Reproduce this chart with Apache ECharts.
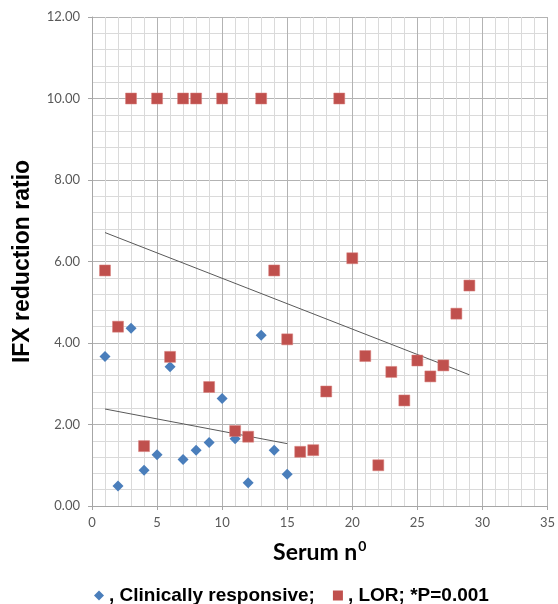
<!DOCTYPE html>
<html lang="en">
<head>
    <meta charset="UTF-8">
    <title>IFX reduction ratio</title>
    <script src="https://cdn.jsdelivr.net/npm/echarts@6/dist/echarts.min.js"></script>
    <style>
        html, body {margin: 0; padding: 0; background: #fff;}
        #chart {width: 558px; height: 604px;}
    </style>
</head>
<body>
<div id="chart"></div>
<script>
    // serum number vs IFX reduction ratio
    var respX = [1, 2, 3, 4, 5, 6, 7, 8, 9, 10, 11, 12, 13, 14, 15]
    var respY = [3.67, 0.49, 4.36, 0.88, 1.26, 3.42, 1.14, 1.37, 1.56, 2.64, 1.65, 0.57, 4.19, 1.37, 0.78]

    var lorX = [1, 2, 3, 4, 5, 6, 7, 8, 9, 10, 11, 12, 13, 14, 15, 16, 17, 18, 19, 20, 21, 22, 23, 24, 25, 26, 27, 28, 29]
    var lorY = [5.78, 4.40, 10, 1.47, 10, 3.66, 10, 10, 2.92, 10, 1.84, 1.70, 10, 5.78, 4.09, 1.33, 1.37, 2.81, 10, 6.08, 3.68, 1.00, 3.29, 2.59, 3.57, 3.18, 3.45, 4.72, 5.41]

    // trend lines (end points)
    var respTrendX = [1, 15]
    var respTrendY = [2.38, 1.53]
    var lorTrendX = [1, 29]
    var lorTrendY = [6.71, 3.22]

    var xTicks = [0, 5, 10, 15, 20, 25, 30, 35]
    var yTicks = ['0.00', '2.00', '4.00', '6.00', '8.00', '10.00', '12.00']

    function pairs(xs, ys) {
        var out = []
        for (var i = 0; i < xs.length; i++) {
            out.push([xs[i], ys[i]])
        }
        return out
    }

    var chart = echarts.init(document.getElementById('chart'), null, {renderer: 'canvas'})
    chart.setOption({
        animation: false,
        grid: {left: 92, right: 6, top: 17, bottom: 98},
        legend: {
            left: 89, top: 581,
            itemWidth: 10, itemHeight: 10, itemGap: 18,
            textStyle: {fontFamily: 'Liberation Sans', fontWeight: 'bold', fontSize: 19, color: '#000'},
            data: [
                {name: ', Clinically responsive;', icon: 'diamond', itemStyle: {color: '#4a7ebb'}},
                {name: ', LOR; *P=0.001', icon: 'rect', itemStyle: {color: '#c0504d', borderWidth: 0}}
            ]
        },
        xAxis: {
            type: 'value', min: 0, max: 35, interval: 5,
            name: '{a|Serum n}{s|0}', nameLocation: 'middle', nameGap: 33,
            nameTextStyle: {
                rich: {
                    a: {fontFamily: 'Lato', fontWeight: 'bold', fontSize: 23, color: '#000', lineHeight: 27},
                    s: {fontFamily: 'Lato', fontWeight: 'bold', fontSize: 14, color: '#000', verticalAlign: 'top', lineHeight: 27, padding: [0, 0, 12, 1]}
                }
            },
            axisLine: {show: true, lineStyle: {color: '#a6a6a6'}},
            axisTick: {show: true, length: 4, lineStyle: {color: '#a6a6a6'}},
            minorTick: {show: false, splitNumber: 5},
            axisLabel: {
                fontFamily: 'Lato', fontSize: 13, color: '#595959', margin: 10,
                formatter: function (v) { return xTicks.indexOf(v) >= 0 ? String(v) : '' }
            },
            splitLine: {show: true, lineStyle: {color: '#b3b3b3'}},
            minorSplitLine: {show: true, lineStyle: {color: '#dadada'}}
        },
        yAxis: {
            type: 'value', min: 0, max: 12, interval: 2,
            name: 'IFX reduction ratio', nameLocation: 'middle', nameGap: 58, nameRotate: 90,
            nameTextStyle: {fontFamily: 'Liberation Sans', fontWeight: 'bold', fontSize: 23, color: '#000'},
            axisLine: {show: true, lineStyle: {color: '#a6a6a6'}},
            axisTick: {show: true, length: 4, lineStyle: {color: '#a6a6a6'}},
            minorTick: {show: false, splitNumber: 5},
            axisLabel: {
                fontFamily: 'Lato', fontSize: 13, color: '#595959', margin: 12,
                formatter: function (v) { return yTicks[Math.round(v / 2)] }
            },
            splitLine: {show: true, lineStyle: {color: '#b3b3b3'}},
            minorSplitLine: {show: true, lineStyle: {color: '#dadada'}}
        },
        series: [
            {
                name: ', Clinically responsive;', type: 'scatter', symbol: 'diamond', symbolSize: 11,
                itemStyle: {color: '#4a7ebb', opacity: 1}, z: 3,
                data: pairs(respX, respY)
            },
            {
                name: ', LOR; *P=0.001', type: 'scatter', symbol: 'rect', symbolSize: 11,
                itemStyle: {color: '#c0504d', borderColor: '#d9827f', borderWidth: 0.5, opacity: 1}, z: 4,
                data: pairs(lorX, lorY)
            },
            {
                type: 'line', showSymbol: false, symbol: 'none', silent: true, z: 2,
                lineStyle: {color: '#595959', width: 1},
                data: pairs(respTrendX, respTrendY)
            },
            {
                type: 'line', showSymbol: false, symbol: 'none', silent: true, z: 2,
                lineStyle: {color: '#595959', width: 1},
                data: pairs(lorTrendX, lorTrendY)
            }
        ]
    })
</script>
</body>
</html>
